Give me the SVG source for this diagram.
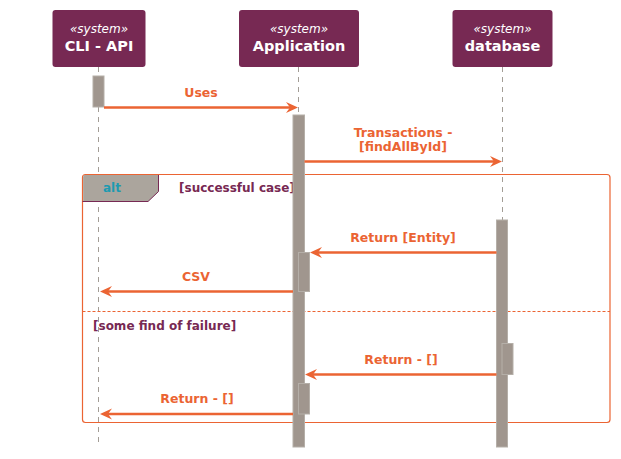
<svg xmlns="http://www.w3.org/2000/svg" width="621" height="459" viewBox="0 0 621 459">
<defs>
<style>
.box{fill:#772953;}
.stereo{font-family:"DejaVu Sans",sans-serif;font-style:italic;font-size:12px;fill:#ffffff;text-anchor:middle;}
.pname{font-family:"DejaVu Sans",sans-serif;font-weight:bold;font-size:14.5px;fill:#ffffff;text-anchor:middle;}
.life{stroke:#A39D96;stroke-width:1;stroke-dasharray:5,5;fill:none;}
.act{fill:#A0968E;stroke:#B5AFA8;stroke-width:1;}
.msg{stroke:#EB6433;stroke-width:2.5;fill:none;marker-end:url(#arr);}
.mtext{font-family:"DejaVu Sans",sans-serif;font-weight:bold;font-size:12.5px;fill:#EB6433;text-anchor:middle;}
.guard{font-family:"DejaVu Sans",sans-serif;font-weight:bold;font-size:12px;fill:#772953;}
.frame{fill:none;stroke:#EB6433;stroke-width:1.2;}
</style>
<marker id="arr" viewBox="-8 -7 14 14" refX="0" refY="0" markerWidth="14" markerHeight="14" markerUnits="userSpaceOnUse" orient="auto">
<path d="M5,0 L-7,-5.5 L-3,0 L-7,5.5 Z" fill="#EB6433"/>
</marker>
</defs>
<rect width="621" height="459" fill="#ffffff"/>
<g id="lifelines">
<line class="life" x1="98.5" y1="67" x2="98.5" y2="447"/>
<line class="life" x1="298.5" y1="67" x2="298.5" y2="447"/>
<line class="life" x1="502.5" y1="67" x2="502.5" y2="447"/>
</g>
<g id="p-cli">
<rect class="box" x="52.5" y="10" width="93" height="57" rx="3"/>
<text class="stereo" x="99" y="33">«system»</text>
<text class="pname" x="99" y="51">CLI - API</text>
</g>
<g id="p-app">
<rect class="box" x="239" y="10" width="120" height="57" rx="3"/>
<text class="stereo" x="299" y="33">«system»</text>
<text class="pname" x="299" y="51">Application</text>
</g>
<g id="p-db">
<rect class="box" x="452.5" y="10" width="100" height="57" rx="3"/>
<text class="stereo" x="502.5" y="33">«system»</text>
<text class="pname" x="502.5" y="51">database</text>
</g>
<g id="alt-frame">
<rect class="frame" x="82.5" y="174.5" width="527.5" height="248" rx="3"/>
<path d="M84,175.1 H158.5 V191.5 L148,201.5 H83.1 V177 Z" fill="#ABA59D"/>
<polyline points="158.5,175 158.5,191.5 148,201.5 82.5,201.5" fill="none" stroke="#772953" stroke-width="1"/>
<line x1="82.5" y1="311.5" x2="610" y2="311.5" stroke="#EB6433" stroke-width="1" stroke-dasharray="3,2"/>
<text x="112" y="192" font-family="DejaVu Sans, sans-serif" font-weight="bold" font-size="12" fill="#1E9AB0" text-anchor="middle">alt</text>
<text class="guard" x="179" y="192">[successful case]</text>
<text class="guard" x="93" y="330">[some find of failure]</text>
</g>
<g id="activations">
<rect class="act" x="93" y="76" width="11" height="31"/>
<rect class="act" x="293" y="115" width="11.5" height="332"/>
<rect class="act" x="298.5" y="252.5" width="11" height="39"/>
<rect class="act" x="298.5" y="383.5" width="11" height="30.5"/>
<rect class="act" x="496.5" y="220" width="11" height="227"/>
<rect class="act" x="502" y="343.5" width="11" height="31"/>
</g>
<g id="connectors">
<line class="msg" x1="104" y1="107.5" x2="293" y2="107.5"/>
<text class="mtext" x="201" y="97">Uses</text>
<line class="msg" x1="304.5" y1="161.5" x2="497" y2="161.5"/>
<text class="mtext" x="403" y="137">Transactions -</text>
<text class="mtext" x="403" y="151">[findAllById]</text>
<line class="msg" x1="496.5" y1="252.5" x2="315" y2="252.5"/>
<text class="mtext" x="403" y="242">Return [Entity]</text>
<line class="msg" x1="293" y1="291.5" x2="105" y2="291.5"/>
<text class="mtext" x="196" y="281">CSV</text>
<line class="msg" x1="496.5" y1="374.5" x2="310" y2="374.5"/>
<text class="mtext" x="401" y="364">Return - []</text>
<line class="msg" x1="293" y1="414" x2="105" y2="414"/>
<text class="mtext" x="197" y="403">Return - []</text>
</g>
</svg>
